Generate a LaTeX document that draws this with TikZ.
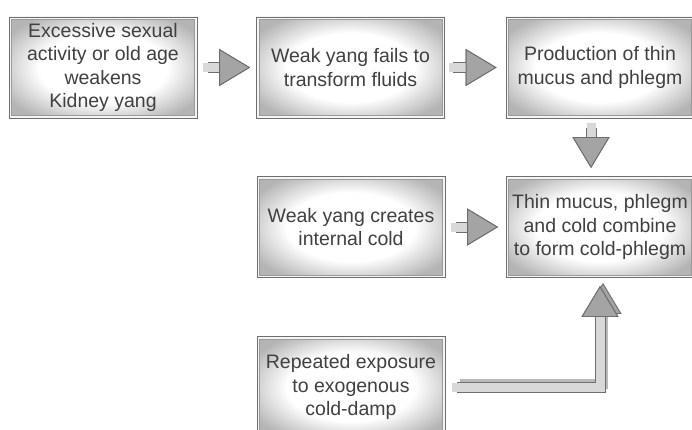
\documentclass[tikz,border=0pt]{standalone}
\usepackage{fontspec}
\setmainfont{Liberation Sans}
\usetikzlibrary{arrows.meta}
\definecolor{textgray}{HTML}{404040}
\definecolor{edgegray}{HTML}{6E6E6E}
\definecolor{boxgray}{HTML}{B4B4B4}
\definecolor{shaftgray}{HTML}{D8D8D8}
\definecolor{headgray}{HTML}{A4A4A4}
\pgfdeclareradialshading{boxglow}{\pgfpoint{0bp}{0bp}}{color(0bp)=(white); color(17bp)=(white); color(30bp)=(boxgray); color(50bp)=(boxgray)}
\begin{document}
\begin{tikzpicture}[x=1pt,y=-1pt,
    box/.style={rectangle, minimum width=188pt, minimum height=101pt,
      inner sep=0pt, align=center, text=textgray,
      font=\fontsize{19.5}{23.5}\selectfont,
      draw=edgegray, line width=0.8pt, shading=boxglow,
      path picture={
        \draw[white!92!gray, line width=5pt] (path picture bounding box.south west) rectangle (path picture bounding box.north east);
        \draw[edgegray!70, line width=0.6pt] ([shift={(2.6pt,2.6pt)}]path picture bounding box.south west) rectangle ([shift={(-2.6pt,-2.6pt)}]path picture bounding box.north east);}},
    tip/.tip={Triangle[length=31pt, width=37pt, color=edgegray, fill=headgray, line width=0.9pt]},
    fat/.style={draw=shaftgray, line width=9pt, line cap=rect, line join=miter, -tip,
      preaction={draw=edgegray, line width=11pt}},
    shadowed/.style={preaction={draw=gray!55, line width=10pt, -tip,
      transform canvas={shift={(3pt,3pt)}}}}]
      \useasboundingbox[fill=white] (0,0) rectangle (692,430);
      \draw
        (103,67.5) node[box] (1){Excessive sexual\\activity or old age\\weakens\\Kidney yang}
        (350.5,67.5) node[box] (2){Weak yang fails to\\transform fluids}
        (600,67.5) node[box] (3){Production of thin\\mucus and phlegm}
        (351,227) node[box] (4){Weak yang creates\\internal cold}
        (600,227) node[box] (5){Thin mucus, phlegm\\and cold combine\\to form cold-phlegm}
        (351,387) node[box] (6){Repeated exposure\\to exogenous\\cold-damp};
      \draw[fat, shorten <=10.5pt, shorten >=6pt] (1) to (2);
      \draw[fat, shorten <=8.5pt, shorten >=9pt] (2) to (3);
      \draw[fat, shorten <=9.5pt, shorten >=8pt] ([xshift=-9pt]3.south) to ([xshift=-9pt]5.north);
      \draw[fat, shorten <=10.5pt, shorten >=7.5pt] (4) to (5);
      \draw[shadowed, fat, shorten <=11.5pt, shorten >=8pt] (6.east) -- (6.east -| 5.south) -- (5.south);
    \end{tikzpicture}
\end{document}
